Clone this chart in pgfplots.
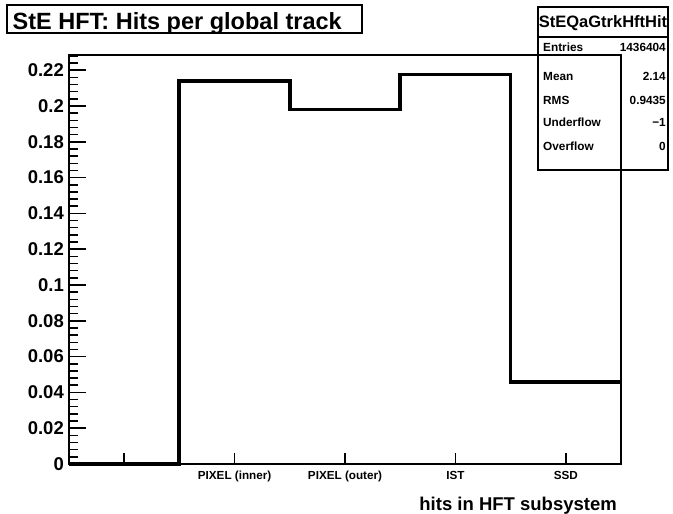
\documentclass[border=0pt]{standalone}
\usepackage{fontspec}
\setmainfont{Liberation Sans}
\usepackage{pgfplots}
\pgfplotsset{compat=1.18}
\begin{document}
\begin{tikzpicture}[x=1pt,y=1pt]
\path[use as bounding box] (0,0) rectangle (673,514);
% title box
\draw[line width=1.3pt, fill=white] (7,481) rectangle (362,509);
\node[font=\bfseries\fontsize{23.5}{25}\selectfont, anchor=base west, inner sep=0pt] at (12.5,484.7) {StE HFT: Hits per global track};
% stats box
\draw[line width=1.6pt, fill=white] (538,344) rectangle (668,507);
\draw[line width=1.6pt] (538,477) -- (668,477);
\node[font=\bfseries\fontsize{16.5}{18}\selectfont, anchor=base, inner sep=0pt] at (603,486) {StEQaGtrkHftHit};
\begin{scope}[every node/.style={font=\bfseries\fontsize{11.8}{13}\selectfont, inner sep=0pt}]
\node[anchor=base west] at (543,462.8) {Entries};
\node[anchor=base east] at (666,462.8) {1436404};
\node[anchor=base west] at (543,433.8) {Mean};
\node[anchor=base east] at (666,433.8) {2.14};
\node[anchor=base west] at (543,409.8) {RMS};
\node[anchor=base east] at (666,409.8) {0.9435};
\node[anchor=base west] at (543,387.1) {Underflow};
\node[anchor=base east] at (666,387.1) {−1};
\node[anchor=base west] at (543,363.8) {Overflow};
\node[anchor=base east] at (666,363.8) {0};
\end{scope}
\begin{axis}[
  at={(69pt,50pt)}, anchor=south west,
  scale only axis, width=552pt, height=409pt,
  xmin=-0.5, xmax=4.5, ymin=0, ymax=0.2285,
  clip=false,
  axis line style={line width=1.8pt, line join=miter},
  tick align=inside,
  xtick pos=left, ytick pos=left,
  xtick={0,1,2,3,4},
  xticklabels={,PIXEL (inner),PIXEL (outer),IST,SSD},
  ytick={0,0.02,0.04,0.06,0.08,0.1,0.12,0.14,0.16,0.18,0.2,0.22},
  yticklabels={0,0.02,0.04,0.06,0.08,0.1,0.12,0.14,0.16,0.18,0.2,0.22},
  minor ytick={0.004,0.008,0.012,0.016,0.024,0.028,0.032,0.036,0.044,0.048,0.052,0.056,0.064,0.068,0.072,0.076,0.084,0.088,0.092,0.096,0.104,0.108,0.112,0.116,0.124,0.128,0.132,0.136,0.144,0.148,0.152,0.156,0.164,0.168,0.172,0.176,0.184,0.188,0.192,0.196,0.204,0.208,0.212,0.216,0.224,0.228},
  major tick length=17pt, minor tick length=8.5pt,
  xtick style={line width=1.5pt, black, /pgfplots/major tick length=11pt},
  ytick style={line width=1.5pt, black},
  minor tick style={line width=1.5pt, black},
  yticklabel style={font=\bfseries\fontsize{18.5}{20}\selectfont, anchor=east, inner sep=0pt, xshift=-5pt},
  xticklabel style={font=\bfseries\fontsize{11.7}{13}\selectfont, anchor=north, inner sep=0pt, yshift=-7pt},
  xlabel={hits in HFT subsystem},
  xlabel style={font=\bfseries\fontsize{18.5}{20}\selectfont, at={(rel axis cs:1,0)}, anchor=base east, inner sep=0pt, yshift=-47pt, xshift=-4pt},
]
\addplot[const plot, black, line width=3.8pt, line join=miter] coordinates {
  (-0.5,0) (0.5,0.214) (1.5,0.198) (2.5,0.2176) (3.5,0.0457) (4.5,0.0457)
};
\end{axis}
\end{tikzpicture}
\end{document}
